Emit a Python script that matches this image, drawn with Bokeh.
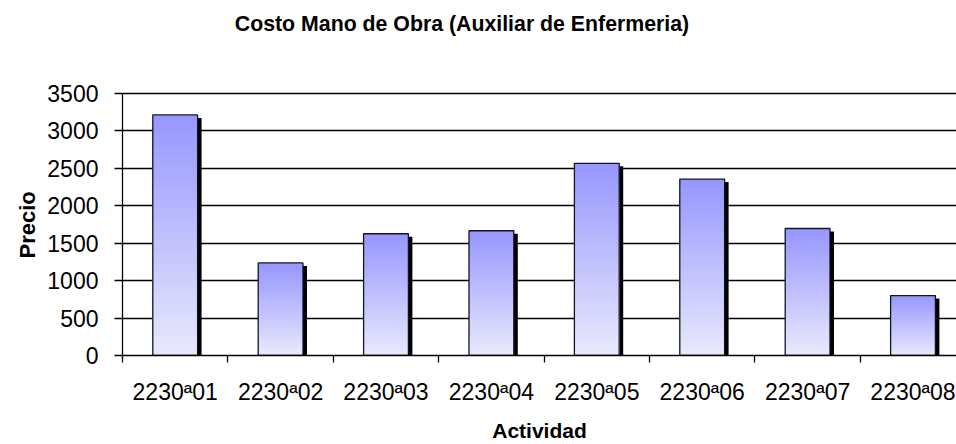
import numpy as np
from bokeh.plotting import figure
from bokeh.models import Range1d, FixedTicker, Label, Title
from bokeh.embed import file_html
from bokeh.resources import INLINE

# ---- data ----
categories = ["2230ª01", "2230ª02", "2230ª03", "2230ª04",
              "2230ª05", "2230ª06", "2230ª07", "2230ª08"]
precio = [3210, 1235, 1625, 1665, 2565, 2355, 1695, 800]
y_ticks = [0, 500, 1000, 1500, 2000, 2500, 3000, 3500]
title_text = "Costo Mano de Obra (Auxiliar de Enfermeria)"
x_title = "Actividad"
y_title = "Precio"

# ---- layout constants (pixels) ----
W, H = 956, 444
LEFT, BOTTOM = 122, 88
AXIS_TOP_PX = 93            # where the top tick sits
CAT_PX = 105.4
frame_w = W - LEFT
frame_h = H - BOTTOM         # frame runs from canvas top to x axis
x_end = frame_w / CAT_PX
px_per_unit = (frame_h - AXIS_TOP_PX) / max(y_ticks)
y_end = frame_h / px_per_unit

FONT = "Liberation Sans"

p = figure(width=W, height=H, output_backend="svg", toolbar_location=None,
           x_range=Range1d(0, x_end), y_range=Range1d(0, y_end),
           min_border_left=LEFT, min_border_right=0,
           min_border_top=0, min_border_bottom=BOTTOM, title=None)
p.outline_line_color = None
p.background_fill_color = "white"
p.border_fill_color = "white"

# title (inside the tall frame, above the value range)
title_px_x, title_px_y = 461.5, 23.5
p.add_layout(Label(x=(title_px_x - LEFT) / CAT_PX,
                   y=(frame_h - title_px_y) / px_per_unit,
                   text=title_text, text_font=FONT, text_font_style="bold",
                   text_font_size="21.3px", text_align="center",
                   text_baseline="middle", text_color="black"))

# y axis title as a left-side Title, centred on the value range
p.add_layout(Title(text=y_title, align="left", offset=97, standoff=10,
                   text_font=FONT, text_font_style="bold",
                   text_font_size="22px", text_color="black"), "left")

n = len(categories)
centers = [i + 0.5 for i in range(n)]
bounds = [float(i) for i in range(n)]
half = 0.2125

# shadow
dx = 4 / CAT_PX
dy = 3 / px_per_unit
p.quad(left=[c - half + dx for c in centers], right=[c + half + dx for c in centers],
       top=[v - dy for v in precio], bottom=[0] * n,
       fill_color="black", line_color=None)

# gradient fill: overlapping rects, tallest (top colour) first
top_col = np.array([150, 150, 255])
bot_col = np.array([233, 233, 252])
N = 60
L, R, B, T, C = [], [], [], [], []
for k in range(N - 1, -1, -1):
    frac = (k + 0.5) / N
    col = bot_col + (top_col - bot_col) * frac
    hexcol = "#%02x%02x%02x" % tuple(int(round(x)) for x in col)
    for c, v in zip(centers, precio):
        L.append(c - half)
        R.append(c + half)
        B.append(0)
        T.append(v * (k + 1) / N)
        C.append(hexcol)
p.quad(left=L, right=R, bottom=B, top=T, fill_color=C, line_color=None)

# outline
p.quad(left=[c - half for c in centers], right=[c + half for c in centers],
       top=precio, bottom=[0] * n, fill_color=None, line_color="#141428", line_width=1.3)

# axes
p.xgrid.grid_line_color = None
p.ygrid.grid_line_color = "black"
p.ygrid.grid_line_width = 1.5
p.ygrid.ticker = FixedTicker(ticks=y_ticks)

yax = p.yaxis[0]
yax.ticker = FixedTicker(ticks=y_ticks)
yax.bounds = (min(y_ticks), max(y_ticks))
yax.major_tick_out = 8
yax.major_tick_in = 0
yax.minor_tick_out = 0
yax.minor_tick_in = 0
yax.axis_line_color = "black"
yax.axis_line_width = 1.3
yax.major_tick_line_color = "black"
yax.major_tick_line_width = 1.3
yax.major_label_text_font = FONT
yax.major_label_text_font_size = "23px"
yax.major_label_text_color = "black"
yax.major_label_standoff = 16

xax = p.xaxis[0]
xax.ticker = FixedTicker(ticks=centers, minor_ticks=bounds)
xax.major_label_overrides = {c: lab for c, lab in zip(centers, categories)}
xax.major_tick_out = 0
xax.major_tick_in = 0
xax.minor_tick_out = 7
xax.minor_tick_in = 0
xax.minor_tick_line_color = "black"
xax.minor_tick_line_width = 1.3
xax.axis_line_color = "black"
xax.axis_line_width = 1.3
xax.major_label_text_font = FONT
xax.major_label_text_font_size = "23px"
xax.major_label_text_color = "black"
xax.major_label_standoff = 16
xax.axis_label = x_title
xax.axis_label_text_font = FONT
xax.axis_label_text_font_style = "bold"
xax.axis_label_text_font_size = "21px"
xax.axis_label_text_color = "black"
xax.axis_label_standoff = 11

open("out.html", "w").write(file_html(p, INLINE))
